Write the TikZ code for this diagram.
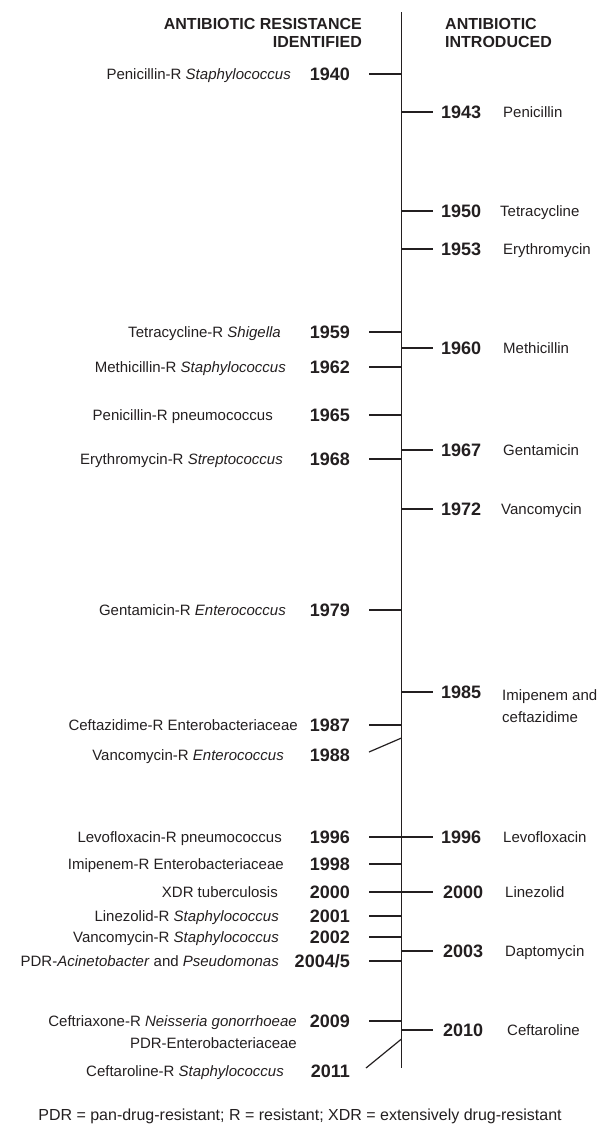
\documentclass[tikz,border=0pt]{standalone}
\usepackage{fontspec}
\setmainfont{Liberation Sans}
\definecolor{ink}{RGB}{35,31,32}
\begin{document}
\begin{tikzpicture}[x=1pt,y=-1pt,
  lab/.style={font=\fontsize{15}{18}\selectfont, text=ink, inner sep=0pt, text height=10.8pt, text depth=0pt},
  yr/.style={font=\bfseries\fontsize{18}{20}\selectfont, text=ink, inner sep=0pt, text height=12.9pt, text depth=0pt},
  hd/.style={font=\bfseries\fontsize{16}{18}\selectfont, text=ink, inner sep=0pt},
  tickline/.style={draw=ink, line width=1.2pt},
  lft/.style={anchor=east},
  rgt/.style={anchor=west}]
\useasboundingbox (0,0) rectangle (603,1141);

% axis
\coordinate (axtop) at (401.5,12);
\coordinate (axbot) at (401.5,1068);
\draw[tickline] (axtop) -- (axbot);

% headers
\node[hd, anchor=north east, align=right] (hleft) at (362,18) {ANTIBIOTIC RESISTANCE\\IDENTIFIED};
\node[hd, anchor=north west, align=left] (hright) at (445,18) {ANTIBIOTIC\\INTRODUCED};

% ---------- left side (resistance identified) ----------
\node[yr,lft] (y1940) at (350,74) {1940};
\node[lab,lft] (l1940) at (291,74) {Penicillin-R \textit{Staphylococcus}};
\node[yr,lft] (y1959) at (350,332) {1959};
\node[lab,lft] (l1959) at (281,332) {Tetracycline-R \textit{Shigella}};
\node[yr,lft] (y1962) at (350,367) {1962};
\node[lab,lft] (l1962) at (286,367) {Methicillin-R \textit{Staphylococcus}};
\node[yr,lft] (y1965) at (350,415) {1965};
\node[lab,lft] (l1965) at (273,415) {Penicillin-R pneumococcus};
\node[yr,lft] (y1968) at (350,459) {1968};
\node[lab,lft] (l1968) at (283,459) {Erythromycin-R \textit{Streptococcus}};
\node[yr,lft] (y1979) at (350,610) {1979};
\node[lab,lft] (l1979) at (286,610) {Gentamicin-R \textit{Enterococcus}};
\node[yr,lft] (y1987) at (350,725) {1987};
\node[lab,lft] (l1987) at (298,725) {Ceftazidime-R Enterobacteriaceae};
\node[yr,lft] (y1988) at (350,755) {1988};
\node[lab,lft] (l1988) at (284,755) {Vancomycin-R \textit{Enterococcus}};
\node[yr,lft] (y1996) at (350,837) {1996};
\node[lab,lft] (l1996) at (282,837) {Levofloxacin-R pneumococcus};
\node[yr,lft] (y1998) at (350,864) {1998};
\node[lab,lft] (l1998) at (284,864) {Imipenem-R Enterobacteriaceae};
\node[yr,lft] (y2000) at (350,892) {2000};
\node[lab,lft] (l2000) at (278,892) {XDR tuberculosis};
\node[yr,lft] (y2001) at (350,916) {2001};
\node[lab,lft] (l2001) at (279,916) {Linezolid-R \textit{Staphylococcus}};
\node[yr,lft] (y2002) at (350,937) {2002};
\node[lab,lft] (l2002) at (279,937) {Vancomycin-R \textit{Staphylococcus}};
\node[yr,lft] (y2004) at (350,961) {2004/5};
\node[lab,lft] (l2004) at (279,961) {PDR-\textit{Acinetobacter} and \textit{Pseudomonas}};
\node[yr,lft] (y2009) at (350,1021) {2009};
\node[lab,lft] (l2009) at (297,1021) {Ceftriaxone-R \textit{Neisseria gonorrhoeae}};
\node[lab,lft] (lpdr) at (297,1043) {PDR-Enterobacteriaceae};
\node[yr,lft] (y2011) at (350,1071) {2011};
\node[lab,lft] (l2011) at (284,1071) {Ceftaroline-R \textit{Staphylococcus}};

\foreach \n in {1940,1959,1962,1965,1968,1979,1987,1996,1998,2000,2001,2002,2004,2009}
  \draw[tickline] ([xshift=19pt]y\n.east) -- (y\n.east -| axtop);
\coordinate (s1988a) at (369,752);
\coordinate (s1988b) at (401.5,738);
\draw[tickline] (s1988a) -- (s1988b);
\coordinate (s2011a) at (366,1068);
\coordinate (s2011b) at (401.5,1039);
\draw[tickline] (s2011a) -- (s2011b);

% ---------- right side (antibiotic introduced) ----------
\node[yr,rgt] (r1943) at (441,112) {1943};
\node[lab,rgt] (n1943) at (503,112) {Penicillin};
\node[yr,rgt] (r1950) at (441,211) {1950};
\node[lab,rgt] (n1950) at (500,211) {Tetracycline};
\node[yr,rgt] (r1953) at (441,249) {1953};
\node[lab,rgt] (n1953) at (503,249) {Erythromycin};
\node[yr,rgt] (r1960) at (441,348) {1960};
\node[lab,rgt] (n1960) at (503,348) {Methicillin};
\node[yr,rgt] (r1967) at (441,450) {1967};
\node[lab,rgt] (n1967) at (503,450) {Gentamicin};
\node[yr,rgt] (r1972) at (441,509) {1972};
\node[lab,rgt] (n1972) at (501,509) {Vancomycin};
\node[yr,rgt] (r1985) at (441,692) {1985};
\node[lab,anchor=north west,align=left,text height=,text depth=,font=\fontsize{15}{22}\selectfont] (n1985) at (502,689) {Imipenem and\\ceftazidime};
\node[yr,rgt] (r1996) at (441,837) {1996};
\node[lab,rgt] (n1996) at (503,837) {Levofloxacin};
\node[yr,rgt] (r2000) at (443,892) {2000};
\node[lab,rgt] (n2000) at (505,892) {Linezolid};
\node[yr,rgt] (r2003) at (443,951) {2003};
\node[lab,rgt] (n2003) at (505,951) {Daptomycin};
\node[yr,rgt] (r2010) at (443,1030) {2010};
\node[lab,rgt] (n2010) at (507,1030) {Ceftaroline};

\foreach \n in {1943,1950,1953,1960,1967,1972,1985,1996,2000,2003,2010}
  \draw[tickline] (r\n.west -| axtop) -- (433,0 |- r\n.west);

% footnote
\node[lab, anchor=center, font=\fontsize{16}{19}\selectfont] (foot) at (300,1115) {PDR = pan-drug-resistant; R = resistant; XDR = extensively drug-resistant};
\end{tikzpicture}
\end{document}
